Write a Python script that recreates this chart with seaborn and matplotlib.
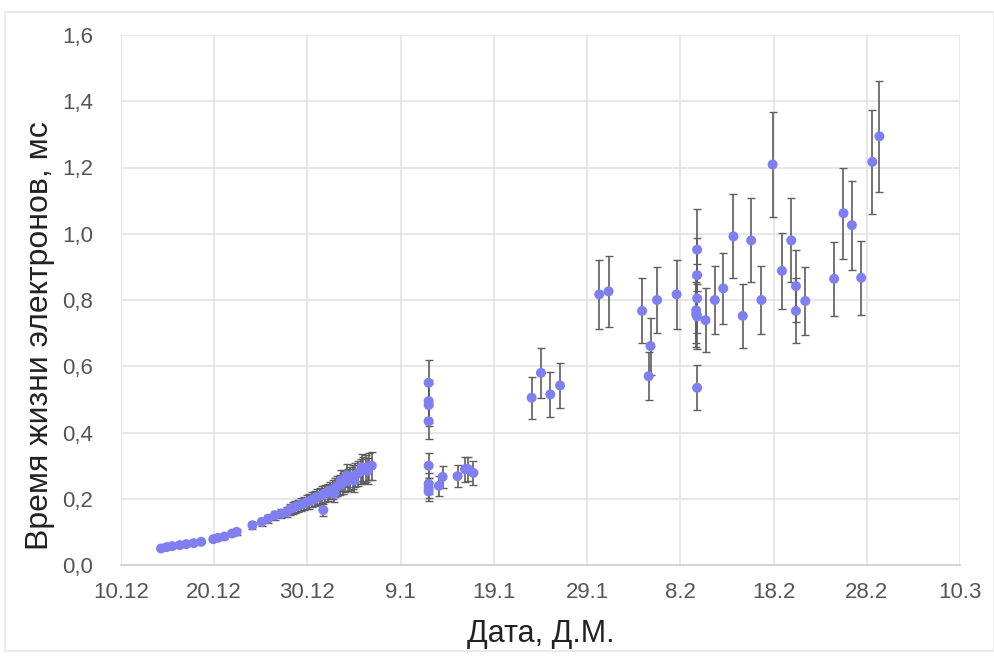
import matplotlib
matplotlib.use("Agg")
import matplotlib.pyplot as plt
import seaborn as sns
import pandas as pd
from matplotlib.patches import Rectangle

# x = days since 10.12
tick_days = [0, 10, 20, 30, 40, 50, 60, 70, 80, 90]
tick_labels = ["10.12", "20.12", "30.12", "9.1", "19.1", "29.1", "8.2", "18.2", "28.2", "10.3"]
y_ticks = [0.0, 0.2, 0.4, 0.6, 0.8, 1.0, 1.2, 1.4, 1.6]
y_tick_labels = ["0,0", "0,2", "0,4", "0,6", "0,8", "1,0", "1,2", "1,4", "1,6"]

# December / early January series
early_day = [4.3, 4.9, 5.5, 6.3, 7.0, 7.8, 8.6, 9.9, 10.4, 11.1, 11.9, 12.4,
             14.1, 15.1, 15.8, 16.5, 17.2, 17.8, 18.1, 18.4, 18.7, 19.0, 19.3,
             19.6, 19.9, 20.2, 20.5, 20.8, 21.0, 21.3, 21.6, 21.7, 21.9, 22.2,
             22.4, 22.7, 22.9, 23.0, 23.2, 23.5, 23.6, 23.8, 24.0, 24.2, 24.3,
             24.6, 24.9, 25.0, 25.1, 25.4, 25.7, 25.8, 26.0, 26.3, 26.5, 26.6, 26.9]
early_val = [0.050, 0.054, 0.057, 0.060, 0.063, 0.066, 0.070, 0.078, 0.082, 0.086, 0.095, 0.100,
             0.120, 0.130, 0.140, 0.150, 0.155, 0.160, 0.168, 0.172, 0.176, 0.178, 0.183,
             0.185, 0.190, 0.192, 0.197, 0.200, 0.205, 0.208, 0.212, 0.166, 0.216, 0.220,
             0.225, 0.228, 0.215, 0.233, 0.238, 0.242, 0.255, 0.247, 0.252, 0.270, 0.256,
             0.262, 0.266, 0.255, 0.272, 0.276, 0.282, 0.295, 0.287, 0.292, 0.285, 0.297, 0.300]
early_err = [0.004, 0.004, 0.004, 0.005, 0.005, 0.005, 0.005, 0.006, 0.006, 0.007, 0.008, 0.008,
             0.010, 0.011, 0.012, 0.013, 0.014, 0.015, 0.016, 0.017, 0.018, 0.019, 0.020,
             0.020, 0.021, 0.022, 0.022, 0.023, 0.024, 0.024, 0.025, 0.018, 0.025, 0.026,
             0.027, 0.028, 0.026, 0.029, 0.030, 0.031, 0.032, 0.032, 0.033, 0.035, 0.034,
             0.035, 0.036, 0.034, 0.036, 0.037, 0.038, 0.040, 0.039, 0.040, 0.039, 0.041, 0.042]

# January - March series
late_day = [33.0, 33.0, 33.0, 33.0, 33.0, 33.0, 33.0, 33.0, 34.1, 34.5, 36.1, 36.9, 37.2, 37.8,
            44.05, 45.05, 46.05, 47.1,
            51.3, 52.3, 55.9, 56.6, 56.8, 57.5, 59.6,
            61.8, 61.8, 61.8, 61.7, 61.7, 61.8, 61.8, 62.7, 63.7, 64.6, 65.7, 66.7,
            67.6, 68.7, 69.9, 70.9, 71.9, 72.4, 72.4, 73.4,
            76.5, 77.5, 78.4, 79.4, 80.6, 81.35]
late_val = [0.550, 0.495, 0.483, 0.434, 0.300, 0.245, 0.232, 0.222, 0.239, 0.266, 0.268, 0.289, 0.290, 0.278,
            0.505, 0.580, 0.515, 0.542,
            0.817, 0.826, 0.767, 0.570, 0.661, 0.800, 0.817,
            0.952, 0.875, 0.805, 0.769, 0.757, 0.750, 0.535, 0.739, 0.800, 0.835, 0.992, 0.752,
            0.980, 0.800, 1.209, 0.888, 0.980, 0.842, 0.767, 0.797,
            0.864, 1.062, 1.026, 0.867, 1.217, 1.294]
late_err = [0.070, 0.065, 0.062, 0.055, 0.037, 0.032, 0.030, 0.028, 0.031, 0.034, 0.034, 0.037, 0.037, 0.036,
            0.063, 0.075, 0.067, 0.069,
            0.105, 0.106, 0.098, 0.073, 0.086, 0.101, 0.105,
            0.124, 0.113, 0.104, 0.099, 0.098, 0.097, 0.068, 0.096, 0.102, 0.106, 0.127, 0.097,
            0.127, 0.102, 0.158, 0.115, 0.127, 0.109, 0.098, 0.103,
            0.112, 0.137, 0.134, 0.112, 0.158, 0.167]

days = early_day + late_day
vals = early_val + late_val
errs = early_err + late_err
df = pd.DataFrame({"day": days, "val": vals, "err": errs})

sns.set_style("whitegrid")
plt.rcParams["font.family"] = ["Liberation Sans", "DejaVu Sans"]

fig = plt.figure(figsize=(9.95, 6.57), dpi=100)
ax = fig.add_axes([121 / 995, 92 / 657, 839 / 995, 530 / 657])

# light outer frame
fig.patches.append(Rectangle((5 / 995, 6 / 657), 989 / 995, 639 / 657, transform=fig.transFigure,
                             fill=False, edgecolor="#e6e6e6", linewidth=1.2))

ax.errorbar(df["day"], df["val"], yerr=df["err"], fmt="none", ecolor="#5e5e5e",
            elinewidth=1.2, capsize=3, capthick=1.0, zorder=2)
sns.scatterplot(data=df, x="day", y="val", ax=ax, color="#7f7ff2", s=52,
                edgecolor="none", linewidth=0, zorder=3, legend=False)

ax.set_xlim(0, 90)
ax.set_ylim(0, 1.6)
ax.set_xticks(tick_days)
ax.set_xticklabels(tick_labels)
ax.set_yticks(y_ticks)
ax.set_yticklabels(y_tick_labels)
ax.tick_params(axis="both", labelsize=16, colors="#555555", length=0)
ax.tick_params(axis="x", pad=12)
ax.tick_params(axis="y", pad=20)
ax.grid(True, color="#e3e3e3", linewidth=1.2)
for side in ["top", "right", "left"]:
    ax.spines[side].set_visible(False)
ax.spines["bottom"].set_color("#d0d0d0")
ax.spines["bottom"].set_linewidth(1.2)

ax.set_xlabel("Дата, Д.М.", fontsize=22, color="#222222", labelpad=12)
ax.set_ylabel("Время жизни электронов, мс", fontsize=23, color="#222222")
ax.yaxis.set_label_coords(-0.079, 0.432)

fig.savefig("out.png", dpi=100)
